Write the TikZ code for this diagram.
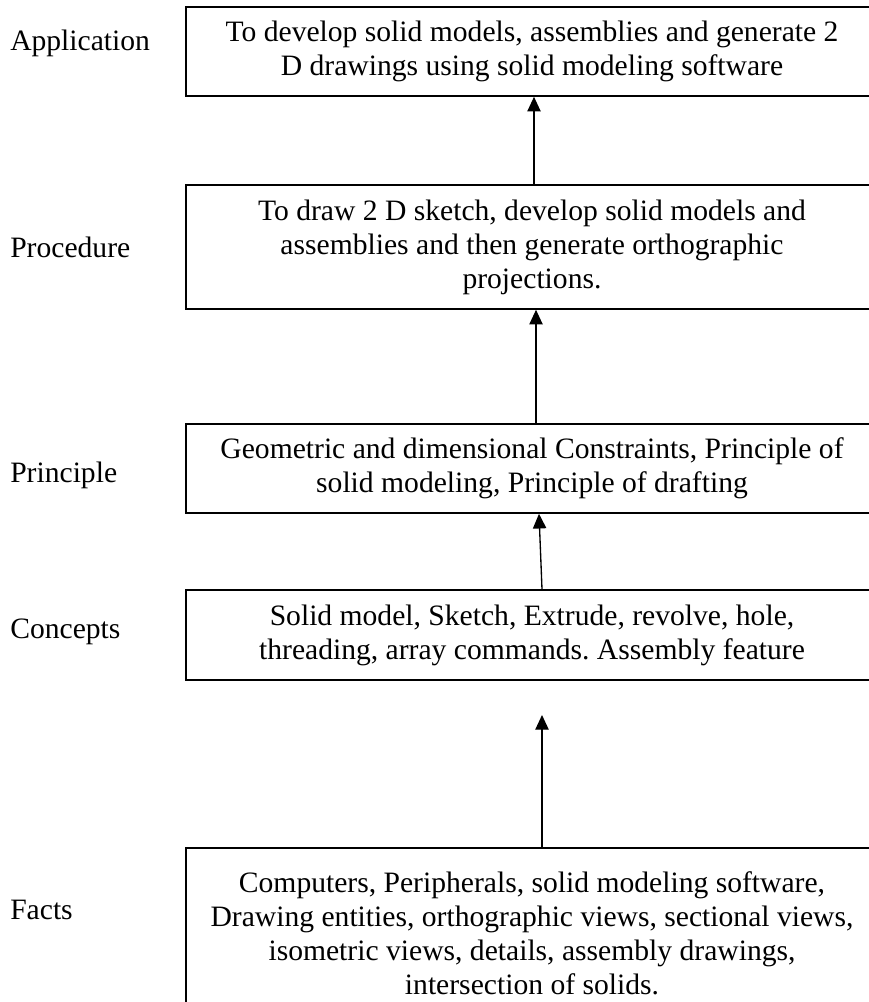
\documentclass[tikz,border=0pt]{standalone}
\usepackage{fontspec}
\setmainfont{Liberation Serif}
\usetikzlibrary{arrows.meta}
\newcommand{\levelfont}{\fontsize{22.2}{25.5}\selectfont\frenchspacing}

\begin{document}
\begin{tikzpicture}[x=0.75pt, y=-0.75pt,
		levelbox/.style={draw, line width=1.2pt, minimum width=519pt, align=center, inner sep=0pt, font=\levelfont},
		levelname/.style={anchor=west, inner sep=0pt, font=\levelfont},
		uparrow/.style={line width=1pt, -{Triangle[length=11pt, width=10pt]}}]
			\useasboundingbox (0, 0) rectangle (868, 1002);
			% boxes, top to bottom
			\node[levelbox, minimum height=66.75pt] (application) at (532, 51.5)
				{To develop solid models, assemblies and generate 2\\ D drawings using solid modeling software};
			\node[levelbox, minimum height=93pt] (procedure) at (532, 247)
				{To draw 2 D sketch, develop solid models and\\ assemblies and then generate orthographic\\ projections.};
			\node[levelbox, minimum height=66.75pt] (principle) at (532, 468.5)
				{Geometric and dimensional Constraints, Principle of\\ solid modeling, Principle of drafting};
			\node[levelbox, minimum height=67.5pt] (concepts) at (532, 635)
				{Solid model, Sketch, Extrude, revolve, hole,\\ threading, array commands. Assembly feature};
			\node[levelbox, minimum height=127.5pt] (facts) at (532, 933)
				{Computers, Peripherals, solid modeling software,\\ Drawing entities, orthographic views, sectional views,\\ isometric views, details, assembly drawings,\\ intersection of solids.};
			% names on the left
			\node[levelname] (applicationname) at (10, 43) {Application};
			\node[levelname] (procedurename) at (10, 247) {Procedure};
			\node[levelname] (principlename) at (10, 475) {Principle};
			\node[levelname] (conceptsname) at (10, 632) {Concepts};
			\node[levelname] (factsname) at (10, 910) {Facts};
			% arrows
			\coordinate (conceptstip) at (542, 715);
			\draw[uparrow] ([xshift=1.5pt]procedure.north) -- ([xshift=1.5pt]application.south);
			\draw[uparrow] ([xshift=3pt]principle.north) -- ([xshift=3pt]procedure.south);
			\draw[uparrow] ([xshift=7.5pt]concepts.north) -- ([xshift=5.25pt]principle.south);
			\draw[uparrow] ([xshift=7.5pt]facts.north) -- (conceptstip);
\end{tikzpicture}
\end{document}
